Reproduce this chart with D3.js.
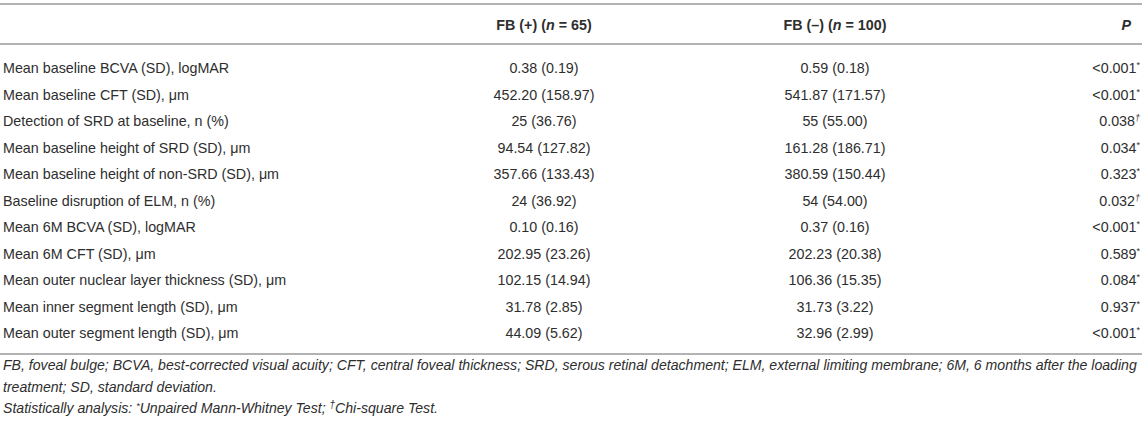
<!DOCTYPE html>
<html>
<head>
<meta charset="utf-8">
<script src="https://cdn.jsdelivr.net/npm/d3@7"></script>
<style>
  body { margin: 0; background: #fff; }
  svg text { font-family: "Liberation Sans", Arial, sans-serif; fill: #2e2e2e; }
</style>
</head>
<body>
<svg id="table"></svg>
<script>
const rowLabels = [
  "Mean baseline BCVA (SD), logMAR",
  "Mean baseline CFT (SD), μm",
  "Detection of SRD at baseline, n (%)",
  "Mean baseline height of SRD (SD), μm",
  "Mean baseline height of non-SRD (SD), μm",
  "Baseline disruption of ELM, n (%)",
  "Mean 6M BCVA (SD), logMAR",
  "Mean 6M CFT (SD), μm",
  "Mean outer nuclear layer thickness (SD), μm",
  "Mean inner segment length (SD), μm",
  "Mean outer segment length (SD), μm"
];
const fbPositive = ["0.38 (0.19)", "452.20 (158.97)", "25 (36.76)", "94.54 (127.82)", "357.66 (133.43)",
  "24 (36.92)", "0.10 (0.16)", "202.95 (23.26)", "102.15 (14.94)", "31.78 (2.85)", "44.09 (5.62)"];
const fbNegative = ["0.59 (0.18)", "541.87 (171.57)", "55 (55.00)", "161.28 (186.71)", "380.59 (150.44)",
  "54 (54.00)", "0.37 (0.16)", "202.23 (20.38)", "106.36 (15.35)", "31.73 (3.22)", "32.96 (2.99)"];
const pValues = ["<0.001", "<0.001", "0.038", "0.034", "0.323", "0.032", "<0.001", "0.589", "0.084", "0.937", "<0.001"];
const pMarks = ["*", "*", "†", "*", "*", "†", "*", "*", "*", "*", "*"];
const footnotes = [
  "FB, foveal bulge; BCVA, best-corrected visual acuity; CFT, central foveal thickness; SRD, serous retinal detachment; ELM, external limiting membrane; 6M, 6 months after the loading",
  "treatment; SD, standard deviation."
];

const width = 1145, height = 422;
const svg = d3.select("#table").attr("width", width).attr("height", height);

const colX = { label: 3, pos: 544, neg: 835, p: 1140 };
const y = d3.scalePoint().domain(d3.range(rowLabels.length)).range([68, 333]);
const ruleColor = "#b3b3b3";

// rules
svg.selectAll("line.rule")
  .data([4, 44, 354])
  .join("line")
  .attr("class", "rule")
  .attr("x1", 0).attr("x2", 1142)
  .attr("y1", d => d).attr("y2", d => d)
  .attr("stroke", ruleColor)
  .attr("stroke-width", 2);

// header
const header = svg.append("g").attr("font-size", 14.3).attr("font-weight", "bold");
const h1 = header.append("text").attr("x", colX.pos).attr("y", 30).attr("text-anchor", "middle");
h1.append("tspan").text("FB (+) (");
h1.append("tspan").attr("font-style", "italic").text("n");
h1.append("tspan").text(" = 65)");
const h2 = header.append("text").attr("x", colX.neg).attr("y", 30).attr("text-anchor", "middle");
h2.append("tspan").text("FB (–) (");
h2.append("tspan").attr("font-style", "italic").text("n");
h2.append("tspan").text(" = 100)");
header.append("text").attr("x", 1131).attr("y", 30).attr("text-anchor", "end")
  .attr("font-style", "italic").text("P");

// body rows
const body = svg.append("g").attr("font-size", 14.3);
const rows = body.selectAll("g.row")
  .data(rowLabels.map((d, i) => ({ label: d, pos: fbPositive[i], neg: fbNegative[i], p: pValues[i], mark: pMarks[i], i })))
  .join("g")
  .attr("class", "row")
  .attr("transform", d => `translate(0, ${y(d.i) + 5})`);

rows.append("text").attr("x", colX.label).text(d => d.label);
rows.append("text").attr("x", colX.pos).attr("text-anchor", "middle").text(d => d.pos);
rows.append("text").attr("x", colX.neg).attr("text-anchor", "middle").text(d => d.neg);
const pText = rows.append("text").attr("x", colX.p).attr("text-anchor", "end");
pText.append("tspan").text(d => d.p);
pText.append("tspan").attr("font-size", 9).attr("dy", -5)
  .attr("font-style", d => d.mark === "†" ? "italic" : null)
  .text(d => d.mark);

// footnotes
const foot = svg.append("g").attr("font-size", 14.1).attr("font-style", "italic");
foot.selectAll("text.fn")
  .data(footnotes)
  .join("text")
  .attr("class", "fn")
  .attr("x", 3)
  .attr("y", (d, i) => 370 + i * 21.5)
  .text(d => d);
const last = foot.append("text").attr("x", 3).attr("y", 370 + 2 * 21.5);
last.append("tspan").text("Statistically analysis: ");
last.append("tspan").attr("font-size", 9).attr("dy", -4).text("*");
last.append("tspan").attr("dy", 4).text("Unpaired Mann-Whitney Test; ");
last.append("tspan").attr("font-size", 10).attr("dy", -5).text("†");
last.append("tspan").attr("dy", 5).text("Chi-square Test.");
</script>
</body>
</html>
